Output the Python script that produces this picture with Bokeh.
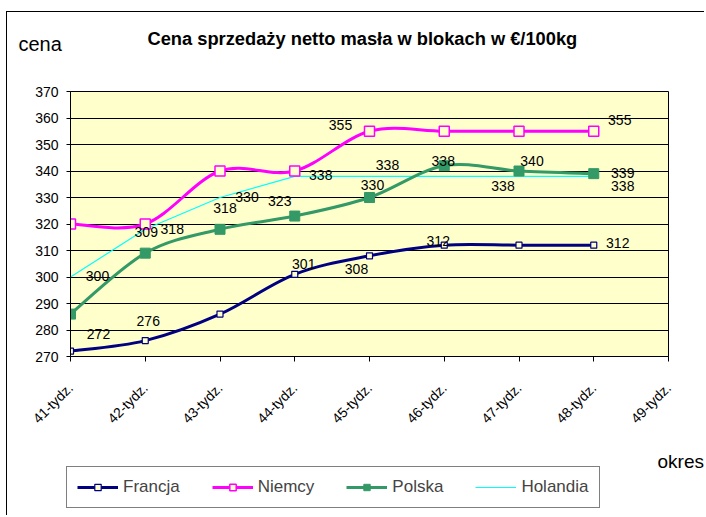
import math
from bokeh.plotting import figure
from bokeh.models import (ColumnDataSource, FixedTicker, Legend, LegendItem, Range1d)
from bokeh.embed import file_html
from bokeh.resources import INLINE
from bokeh.core.properties import value

# ---------------- data ----------------
weeks = ["41-tydz.", "42-tydz.", "43-tydz.", "44-tydz.", "45-tydz.",
         "46-tydz.", "47-tydz.", "48-tydz.", "49-tydz."]
francja = [272, 276, 286, 301, 308, 312, 312, 312]
niemcy = [320, 320, 340, 340, 355, 355, 355, 355]
polska = [286, 309, 318, 323, 330, 342, 340, 339]
holandia = [300, 318, 330, 338, 338, 338, 338, 338]
y_ticks = [270, 280, 290, 300, 310, 320, 330, 340, 350, 360, 370]

title_text = "Cena sprzedaży netto masła w blokach w €/100kg"
y_title = "cena"
x_title = "okres"

FONT = "Liberation Sans"
W = 698
HEAD_H, MAIN_H, FOOT_H = 48, 380, 76
NAN = float("nan")

def strip(h):
    f = figure(width=W, height=h, output_backend="svg", toolbar_location=None,
               title=None, x_range=Range1d(0, W), y_range=Range1d(h, 0),
               x_axis_type=None, y_axis_type=None, min_border=0,
               background_fill_color="white", border_fill_color="white",
               outline_line_color=None)
    f.xgrid.visible = False
    f.ygrid.visible = False
    return f

# ---------------- header strip (title + y title) ----------------
head = strip(HEAD_H)
head.styles = {"border-left": "1px solid black", "border-top": "1px solid black",
               "margin-top": "11px", "margin-left": "6px"}
head.text(x=[140], y=[26], text=[title_text], text_font=value(FONT),
          text_font_size="18.3px", text_font_style="bold", text_color="black",
          text_align="left", text_baseline="middle")
head.text(x=[11], y=[31], text=[y_title], text_font=value(FONT),
          text_font_size="20px", text_color="black",
          text_align="left", text_baseline="middle")

# ---------------- main plot ----------------
FL, FR, FT, FB = 63, 661, 32, 297      # frame edges inside main canvas
p = figure(width=W, height=MAIN_H, output_backend="svg", toolbar_location=None,
           title=None, x_range=Range1d(0, 8), y_range=Range1d(270, 370),
           min_border_left=FL, min_border_right=W - FR,
           min_border_top=FT, min_border_bottom=MAIN_H - FB,
           background_fill_color="#FFFFCC", border_fill_color="white")
p.styles = {"border-left": "1px solid black", "margin-left": "6px"}
p.outline_line_color = "black"
p.outline_line_width = 1
p.xgrid.visible = False
p.ygrid.ticker = FixedTicker(ticks=y_ticks)
p.ygrid.grid_line_color = "black"
p.ygrid.grid_line_width = 1

p.yaxis.ticker = FixedTicker(ticks=y_ticks)
p.xaxis.ticker = FixedTicker(ticks=list(range(len(weeks))))
p.xaxis.major_label_overrides = {i: w for i, w in enumerate(weeks)}
p.xaxis.major_label_orientation = math.pi / 4
for ax in (p.xaxis, p.yaxis):
    ax.axis_line_color = "black"
    ax.major_tick_line_color = "black"
    ax.minor_tick_line_color = None
    ax.major_tick_in = 0
    ax.major_label_text_font = FONT
    ax.major_label_text_font_size = "14px"
    ax.major_label_text_color = "black"
p.yaxis.major_tick_out = 4
p.yaxis.major_label_standoff = 8
p.xaxis.major_tick_out = 5
p.xaxis.major_label_standoff = 24

def bezier_source(xs, ys):
    n = len(xs)
    d = dict(x0=[], y0=[], x1=[], y1=[], cx0=[], cy0=[], cx1=[], cy1=[])
    for i in range(n - 1):
        a = i - 1 if i > 0 else i
        b = i + 2 if i + 2 < n else i + 1
        d["x0"].append(xs[i]); d["y0"].append(ys[i])
        d["x1"].append(xs[i + 1]); d["y1"].append(ys[i + 1])
        d["cx0"].append(xs[i] + (xs[i + 1] - xs[a]) / 6)
        d["cy0"].append(ys[i] + (ys[i + 1] - ys[a]) / 6)
        d["cx1"].append(xs[i + 1] - (xs[b] - xs[i]) / 6)
        d["cy1"].append(ys[i + 1] - (ys[b] - ys[i]) / 6)
    return ColumnDataSource(d)

xs = list(range(len(francja)))
series = [
    dict(name="Francja", vals=francja, color="#000080", lw=3, smooth=True,
         marker=dict(size=6, fill="#FFFFCC", lw=1.2)),
    dict(name="Niemcy", vals=niemcy, color="#FF00FF", lw=3, smooth=True,
         marker=dict(size=10, fill="#FFFFCC", lw=1.5)),
    dict(name="Polska", vals=polska, color="#339966", lw=3, smooth=True,
         marker=dict(size=10, fill="#339966", lw=1)),
    dict(name="Holandia", vals=holandia, color="#00FFFF", lw=1.2, smooth=False,
         marker=None),
]

# which points carry a data label, with label offset in px (dx, dy; dy down)
label_spec = {
    "Francja": [(0, 28, -17), (1, 3, -20), (3, 9, -10), (4, -13, 13), (5, -6, -4), (7, 24, -2)],
    "Niemcy": [(4, -29, -6), (7, 26, -11)],
    "Polska": [(1, 1, -21), (2, 5, -21), (3, -15, -15), (4, 3, -13), (6, 13, -10), (7, 29, -1)],
    "Holandia": [(0, 27, -1), (1, 27, 0), (2, 27, -1), (3, 26, -1), (4, 18, -11),
                 (5, -1, -15), (6, -16, 10), (7, 29, 10)],
}

by_name = {s["name"]: s for s in series}
for name in ["Holandia", "Polska", "Francja", "Niemcy"]:
    s = by_name[name]
    if s["smooth"]:
        p.bezier(x0="x0", y0="y0", x1="x1", y1="y1", cx0="cx0", cy0="cy0",
                 cx1="cx1", cy1="cy1", source=bezier_source(xs, s["vals"]),
                 line_color=s["color"], line_width=s["lw"])
    else:
        p.line(xs, s["vals"], line_color=s["color"], line_width=s["lw"])

for s in series:
    m = s["marker"]
    if m is not None:
        p.scatter(xs, s["vals"], marker="square", size=m["size"],
                  fill_color=m["fill"], line_color=s["color"], line_width=m["lw"])

lx, ly, lt, ldx, ldy = [], [], [], [], []
for s in series:
    for (i, dx, dy) in label_spec[s["name"]]:
        lx.append(xs[i]); ly.append(s["vals"][i]); lt.append(str(s["vals"][i]))
        ldx.append(dx); ldy.append(dy)
p.text(x="x", y="y", text="t", x_offset="dx", y_offset="dy",
       source=ColumnDataSource(dict(x=lx, y=ly, t=lt, dx=ldx, dy=ldy)),
       text_font=value(FONT), text_font_size="14px", text_color="black",
       text_align="center", text_baseline="middle")

# ---------------- footer strip (legend + x title) ----------------
foot = strip(FOOT_H)
foot.styles = {"border-left": "1px solid black", "margin-left": "6px"}
foot.text(x=[650], y=[22], text=[x_title], text_font=value(FONT),
          text_font_size="19px", text_color="black",
          text_align="left", text_baseline="middle")

legend_items = []
for s in series:
    rs = [foot.line([NAN], [NAN], line_color=s["color"], line_width=s["lw"])]
    m = s["marker"]
    if m is not None:
        rs.append(foot.scatter([NAN], [NAN], marker="square", size=m["size"] - 2,
                               fill_color=m["fill"], line_color=s["color"],
                               line_width=m["lw"]))
    legend_items.append(LegendItem(label=s["name"], renderers=rs))

legend = Legend(items=legend_items, orientation="horizontal",
                location=(59, 7), border_line_color="black",
                border_line_width=1, background_fill_color="white",
                background_fill_alpha=1, label_text_font=FONT,
                label_text_font_size="17px", glyph_width=41, glyph_height=16,
                label_height=16, label_standoff=5, spacing=32, padding=10,
                margin=0)
foot.add_layout(legend, "center")

open("out.html", "w").write(file_html([head, p, foot], INLINE))
